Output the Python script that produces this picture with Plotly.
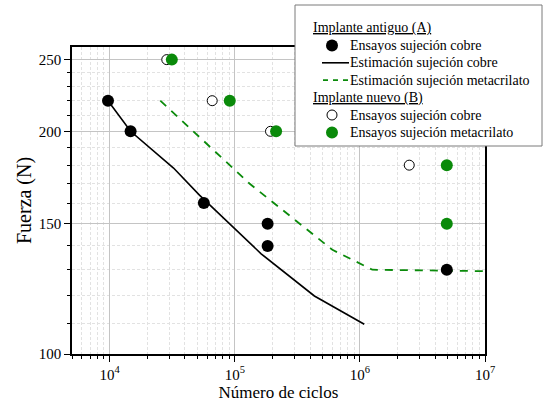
import plotly.graph_objects as go

# Implante antiguo (A): ensayos con sujeción de cobre
a_cobre_ciclos = [9700, 14700, 56600, 183000, 183000, 4950000]
a_cobre_fuerza = [220, 200, 160, 150, 140, 130]

# Estimación sujeción cobre (curva A)
est_cobre_ciclos = [9700, 14700, 32400, 52200, 162500, 433000, 1084000]
est_cobre_fuerza = [220, 200, 178.4, 164, 136.6, 119.8, 109.7]

# Estimación sujeción metacrilato
est_meta_ciclos = [25400, 131000, 603000, 1257000, 10000000]
est_meta_fuerza = [220, 170, 138.3, 130, 129.4]

# Implante nuevo (B): ensayos con sujeción de cobre
b_cobre_ciclos = [28600, 66000, 193000, 2480000]
b_cobre_fuerza = [250, 220, 200, 180]

# Implante nuevo (B): ensayos con sujeción de metacrilato
b_meta_ciclos = [31400, 91200, 214000, 4950000, 4950000]
b_meta_fuerza = [250, 220, 200, 180, 150]

# Ejes
x_major = [1e4, 1e5, 1e6, 1e7]
x_major_text = ["10<sup>4</sup>", "10<sup>5</sup>", "10<sup>6</sup>", "10<sup>7</sup>"]
x_minor = [m * 10 ** e for e in range(3, 7) for m in range(2, 10) if 5000 <= m * 10 ** e <= 1e7]
y_major = [100, 150, 200, 250]
y_minor = [110, 120, 130, 140, 160, 170, 180, 190, 210, 220, 230, 240]

# Leyenda: (tipo, texto)
legend_rows = [
    ("header", "Implante antiguo (A)"),
    ("dot_black", "Ensayos sujeción cobre"),
    ("line_black", "Estimación sujeción cobre"),
    ("dash_green", "Estimación sujeción metacrilato"),
    ("header", "Implante nuevo (B)"),
    ("ring", "Ensayos sujeción cobre"),
    ("dot_green", "Ensayos sujeción metacrilato"),
]

FONT = "'Liberation Serif', 'Times New Roman', Times, serif"
GREEN = "#0a8a0a"

W, H = 545, 407
ML, MR, MT, MB = 72, 60, 47, 53
PW, PH = W - ML - MR, H - MT - MB


def px(x):
    return (x - ML) / PW


def py(y):
    return (H - MB - y) / PH


fig = go.Figure()

fig.add_trace(go.Scatter(
    x=est_cobre_ciclos, y=est_cobre_fuerza, mode="lines",
    line=dict(color="black", width=1.6), name="Estimación sujeción cobre",
))
fig.add_trace(go.Scatter(
    x=est_meta_ciclos, y=est_meta_fuerza, mode="lines",
    line=dict(color=GREEN, width=1.8, dash="8px,7px"), name="Estimación sujeción metacrilato",
))
fig.add_trace(go.Scatter(
    x=a_cobre_ciclos, y=a_cobre_fuerza, mode="markers",
    marker=dict(color="black", size=12, line=dict(width=0)), name="Ensayos sujeción cobre (A)",
))
fig.add_trace(go.Scatter(
    x=b_cobre_ciclos, y=b_cobre_fuerza, mode="markers",
    marker=dict(color="white", size=10, line=dict(color="black", width=1)), name="Ensayos sujeción cobre (B)",
))
fig.add_trace(go.Scatter(
    x=b_meta_ciclos, y=b_meta_fuerza, mode="markers",
    marker=dict(color=GREEN, size=12, line=dict(width=0)), name="Ensayos sujeción metacrilato (B)",
))

# Caja de la leyenda
shapes = [dict(type="rect", xref="paper", yref="paper", layer="above",
               x0=px(295), x1=px(542), y0=py(146), y1=py(5),
               fillcolor="white", line=dict(color="#7a7a7a", width=1))]
annotations = []
row_y0, row_step = 28, 17.4
sym_x, text_x, head_x = 332, 350, 313
for i, (kind, label) in enumerate(legend_rows):
    yc = row_y0 + i * row_step
    if kind == "header":
        annotations.append(dict(
            xref="paper", yref="paper", x=px(head_x - 2), y=py(yc),
            xanchor="left", yanchor="middle", showarrow=False,
            text="<u>" + label + "</u>", font=dict(family=FONT, size=14, color="black"),
        ))
        continue
    if kind in ("dot_black", "dot_green", "ring"):
        r = 6 if kind != "ring" else 5
        fill = {"dot_black": "black", "dot_green": GREEN, "ring": "white"}[kind]
        line = dict(color="black", width=1) if kind == "ring" else dict(width=0)
        shapes.append(dict(type="circle", xref="paper", yref="paper", layer="above",
                           x0=px(sym_x - r), x1=px(sym_x + r), y0=py(yc + r), y1=py(yc - r),
                           fillcolor=fill, line=line))
    elif kind == "line_black":
        shapes.append(dict(type="line", xref="paper", yref="paper", layer="above",
                           x0=px(322), x1=px(349), y0=py(yc), y1=py(yc),
                           line=dict(color="black", width=1.6)))
    elif kind == "dash_green":
        shapes.append(dict(type="line", xref="paper", yref="paper", layer="above",
                           x0=px(323), x1=px(349), y0=py(yc), y1=py(yc),
                           line=dict(color=GREEN, width=1.8, dash="5px,5px")))
    annotations.append(dict(
        xref="paper", yref="paper", x=px(text_x - 2), y=py(yc),
        xanchor="left", yanchor="middle", showarrow=False,
        text=label, font=dict(family=FONT, size=14, color="black"),
    ))

fig.update_layout(
    width=W, height=H,
    margin=dict(l=ML, r=MR, t=MT, b=MB),
    paper_bgcolor="white", plot_bgcolor="white",
    font=dict(family=FONT, color="black"),
    showlegend=False,
    shapes=shapes, annotations=annotations,
)

fig.update_xaxes(
    type="log", range=[3.699, 7], automargin=False,
    tickmode="array", tickvals=x_major, ticktext=x_major_text,
    tickfont=dict(family=FONT, size=15, color="black"),
    ticks="outside", ticklen=6, tickwidth=1.2, tickcolor="black",
    showline=True, linecolor="black", linewidth=1.5, mirror=True,
    showgrid=True, gridcolor="#c4c4c4", gridwidth=1,
    minor=dict(tickmode="array", tickvals=x_minor, ticks="outside", ticklen=3,
               tickcolor="black", tickwidth=1, showgrid=True,
               gridcolor="#e2e2e2", griddash="3px,2px", gridwidth=1),
    title=dict(text="Número de ciclos", font=dict(family=FONT, size=17, color="black"), standoff=4),
    zeroline=False,
)
fig.update_yaxes(
    type="log", range=[2, 2.415], automargin=False,
    tickmode="array", tickvals=y_major, ticktext=[str(v) for v in y_major],
    tickfont=dict(family=FONT, size=15, color="black"),
    ticks="outside", ticklen=6, tickwidth=1.2, tickcolor="black",
    showline=True, linecolor="black", linewidth=1.5, mirror=True,
    showgrid=True, gridcolor="#c4c4c4", gridwidth=1,
    minor=dict(tickmode="array", tickvals=y_minor, ticks="outside", ticklen=3,
               tickcolor="black", tickwidth=1, showgrid=True,
               gridcolor="#e2e2e2", griddash="3px,2px", gridwidth=1),
    title=dict(text="Fuerza (N)", font=dict(family=FONT, size=20, color="black"), standoff=2),
    zeroline=False,
)

fig.write_html("out.html")
